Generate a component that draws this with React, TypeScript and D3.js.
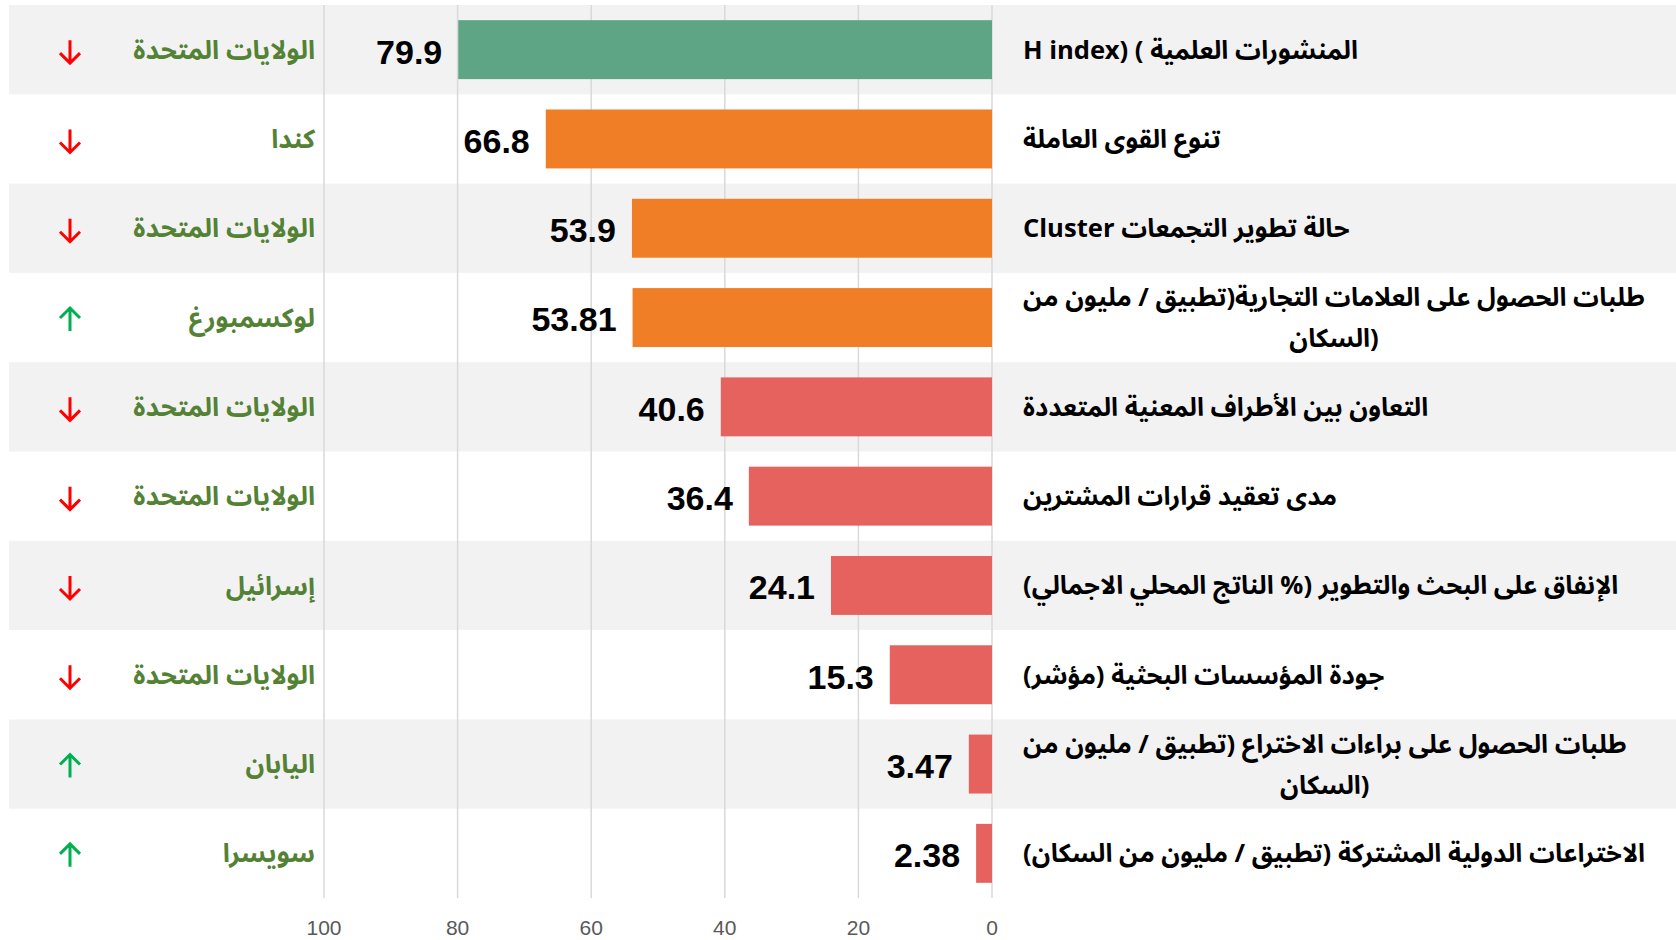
import React, { useEffect, useRef } from 'react';
import * as d3 from 'd3';

// indicators, top to bottom (second line of a wrapped label after '\n')
const indicators: string[] = [
    '\u2066H index) ( المنشورات العلمية\u2069',
    'تنوع القوى العاملة',
    'حالة تطوير التجمعات Cluster',
    'طلبات الحصول على العلامات التجارية(تطبيق / مليون من\n(السكان',
    'التعاون بين الأطراف المعنية المتعددة',
    'مدى تعقيد قرارات المشترين',
    'الإنفاق على البحث والتطوير (% الناتج المحلي الاجمالي)',
    'جودة المؤسسات البحثية (مؤشر)',
    'طلبات الحصول على براءات الاختراع (تطبيق / مليون من\n(السكان',
    'الاختراعات الدولية المشتركة (تطبيق / مليون من السكان)',
];

const values: number[] = [79.9, 66.8, 53.9, 53.81, 40.6, 36.4, 24.1, 15.3, 3.47, 2.38];

const valueLabels: string[] = ['79.9', '66.8', '53.9', '53.81', '40.6', '36.4', '24.1', '15.3', '3.47', '2.38'];

const leaders: string[] = [
    'الولايات المتحدة',
    'كندا',
    'الولايات المتحدة',
    'لوكسمبورغ',
    'الولايات المتحدة',
    'الولايات المتحدة',
    'إسرائيل',
    'الولايات المتحدة',
    'اليابان',
    'سويسرا',
];

const trends: string[] = ['down', 'down', 'down', 'up', 'down', 'down', 'down', 'down', 'up', 'up'];

const tiers: string[] = ['high', 'mid', 'mid', 'mid', 'low', 'low', 'low', 'low', 'low', 'low'];

const xTicks: number[] = [0, 20, 40, 60, 80, 100];

const W = 1676;
const H = 940;
const ARABIC = "'Noto Sans Arabic', 'DejaVu Sans', sans-serif";
const LATIN = "'Liberation Sans', Arial, sans-serif";

const App: React.FC = () => {
    const svgRef = useRef<SVGSVGElement | null>(null);

    useEffect(() => {
        if (!svgRef.current) return;
        const svg = d3.select(svgRef.current);
        svg.selectAll('*').remove();

        const x = d3.scaleLinear().domain([0, 100]).range([992, 324]);
        const rows = indicators.map((_, i) => i);
        const y = d3.scaleBand<number>().domain(rows).range([5, 898]).padding(0);
        const rowH = y.bandwidth();
        const barH = rowH * 0.66;

        const color = d3
            .scaleOrdinal<string, string>()
            .domain(['high', 'mid', 'low'])
            .range(['#5DA584', '#F07E27', '#E5625E']);

        // zebra row bands
        svg.append('g')
            .selectAll('rect')
            .data(rows.filter((i) => i % 2 === 0))
            .enter()
            .append('rect')
            .attr('x', 9)
            .attr('y', (i) => y(i) as number)
            .attr('width', W - 9)
            .attr('height', rowH)
            .attr('fill', '#F2F2F2');

        // gridlines
        svg.append('g')
            .selectAll('line')
            .data(xTicks)
            .enter()
            .append('line')
            .attr('x1', (d) => x(d))
            .attr('x2', (d) => x(d))
            .attr('y1', 5)
            .attr('y2', 898)
            .attr('stroke', '#D9D9D9')
            .attr('stroke-width', 1.5);

        // axis labels
        svg.append('g')
            .selectAll('text')
            .data(xTicks)
            .enter()
            .append('text')
            .attr('x', (d) => x(d))
            .attr('y', 928)
            .attr('dy', '0.35em')
            .attr('text-anchor', 'middle')
            .attr('font-family', LATIN)
            .attr('font-size', 21)
            .attr('fill', '#595959')
            .text((d) => d);

        // bars
        svg.append('g')
            .selectAll('rect')
            .data(values)
            .enter()
            .append('rect')
            .attr('x', (d) => x(d))
            .attr('y', (_, i) => (y(i) as number) + (rowH - barH) / 2)
            .attr('width', (d) => x(0) - x(d))
            .attr('height', barH)
            .attr('fill', (_, i) => color(tiers[i]));

        // value labels
        svg.append('g')
            .selectAll('text')
            .data(values)
            .enter()
            .append('text')
            .attr('x', (d) => x(d) - 16)
            .attr('y', (_, i) => (y(i) as number) + rowH / 2 + 2)
            .attr('dy', '0.35em')
            .attr('text-anchor', 'end')
            .attr('font-family', LATIN)
            .attr('font-weight', 'bold')
            .attr('font-size', 34)
            .attr('fill', '#000')
            .text((_, i) => valueLabels[i]);

        // leading country
        svg.append('g')
            .selectAll('text')
            .data(leaders)
            .enter()
            .append('text')
            .attr('x', 315)
            .attr('y', (_, i) => (y(i) as number) + rowH / 2)
            .attr('dy', '0.35em')
            .attr('text-anchor', 'end')
            .attr('font-family', ARABIC)
            .attr('font-weight', 'bold')
            .attr('font-size', 26)
            .attr('fill', '#548235')
            .text((d) => d);

        // trend arrows
        const arrow = (cx: number, cy: number, dir: string) => {
            const half = 11.5;
            const s = dir === 'up' ? -1 : 1;
            const tip = cy + s * half;
            const p = d3.path();
            p.moveTo(cx, cy - s * half);
            p.lineTo(cx, tip);
            p.moveTo(cx - 10, tip - s * 10);
            p.lineTo(cx, tip);
            p.lineTo(cx + 10, tip - s * 10);
            return p.toString();
        };
        svg.append('g')
            .selectAll('path')
            .data(trends)
            .enter()
            .append('path')
            .attr('d', (d, i) => arrow(70, (y(i) as number) + rowH / 2 + 2, d))
            .attr('fill', 'none')
            .attr('stroke', (d) => (d === 'up' ? '#00B050' : '#FF0000'))
            .attr('stroke-width', 3);

        // indicator names: one <text> per row, one <tspan> per line
        const labelX = 1023;
        const lineGap = 41;
        indicators.forEach((label, i) => {
            const lines = label.split('\n');
            const cy = (y(i) as number) + rowH / 2;
            const t = svg
                .append('text')
                .attr('direction', 'rtl')
                .attr('text-anchor', 'middle')
                .attr('font-family', ARABIC)
                .attr('font-weight', 'bold')
                .attr('font-size', 25.6)
                .attr('fill', '#000');
            const spans = lines.map((ln, k) =>
                t
                    .append('tspan')
                    .attr('y', cy + (k - (lines.length - 1) / 2) * lineGap)
                    .attr('dy', '0.35em')
                    .text(ln)
            );
            const widths = spans.map((s) => (s.node() as SVGTSpanElement).getComputedTextLength());
            const maxW = d3.max(widths) as number;
            spans.forEach((s, k) => {
                s.attr('x', lines.length > 1 ? labelX + maxW / 2 : labelX + widths[k] / 2);
            });
        });
    }, []);

    return (
        <svg
            ref={svgRef}
            width={W}
            height={H}
            style={{ position: 'absolute', left: 0, top: 0, background: '#fff' }}
        ></svg>
    );
};

export default App;
